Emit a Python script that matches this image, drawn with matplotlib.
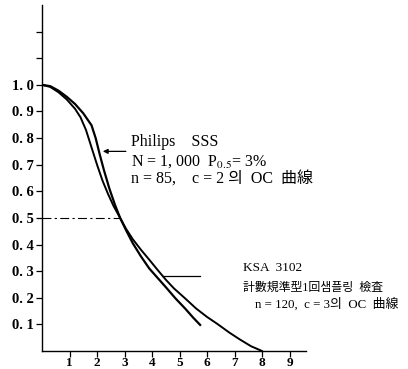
import numpy as np
import matplotlib
matplotlib.use('Agg')
import matplotlib.pyplot as plt

plt.rcParams['mathtext.fontset'] = 'stix'

# OC curves (percent defective vs. P(accept))
philips_x = [0, 0.3, 0.6, 0.9, 1.2, 1.5, 1.8, 1.95, 2.1, 2.25, 2.45, 2.65,
             2.84, 3.05, 3.3, 3.6, 3.9, 4.2, 4.5, 4.85, 5.2, 5.5, 5.75]
philips_y = [1.0, 0.995, 0.978, 0.955, 0.928, 0.893, 0.848, 0.8, 0.738, 0.68,
             0.61, 0.55, 0.5, 0.455, 0.405, 0.355, 0.31, 0.275, 0.24, 0.198,
             0.16, 0.125, 0.098]

ksa_x = [0, 0.3, 0.6, 0.9, 1.2, 1.4, 1.6, 1.8, 2.0, 2.2, 2.4, 2.6, 2.84,
         3.05, 3.3, 3.6, 3.9, 4.2, 4.5, 4.8, 5.2, 5.6, 6.0, 6.4, 6.8, 7.2,
         7.6, 8.0]
ksa_y = [1.0, 0.992, 0.972, 0.945, 0.91, 0.878, 0.83, 0.765, 0.7, 0.64,
         0.59, 0.545, 0.5, 0.46, 0.42, 0.38, 0.343, 0.305, 0.268, 0.235,
         0.198, 0.16, 0.128, 0.1, 0.07, 0.043, 0.018, 0.0]

x_ticks = [1, 2, 3, 4, 5, 6, 7, 8, 9]
y_ticks = [0.1, 0.2, 0.3, 0.4, 0.5, 0.6, 0.7, 0.8, 0.9, 1.0, 1.1, 1.2]
y_labels = ['0. 1', '0. 2', '0. 3', '0. 4', '0. 5', '0. 6', '0. 7', '0. 8',
            '0. 9', '1. 0', '', '']

p50 = 0.5
p50_x = 2.84

txt_font = ['Liberation Serif', 'Noto Sans CJK KR']

fig = plt.figure(figsize=(4.08, 3.69), dpi=100)
ax = fig.add_axes([0.103, 0.0488, 0.647, 0.9377])

ax.plot(philips_x, philips_y, color='black', lw=1.6)
ax.plot(ksa_x, ksa_y, color='black', lw=1.4)
ax.plot([0, p50_x], [p50, p50], color='black', lw=0.8,
        dashes=(8, 3, 2, 3))

ax.set_xlim(0, 9.6)
ax.set_ylim(0, 1.3)
ax.spines['top'].set_visible(False)
ax.spines['right'].set_visible(False)
ax.spines['left'].set_linewidth(1.0)
ax.spines['bottom'].set_linewidth(1.0)

ax.set_xticks(x_ticks)
ax.set_xticklabels([str(t) for t in x_ticks], fontsize=9.5,
                   fontweight='bold', family='Liberation Serif')
ax.set_yticks(y_ticks)
ax.set_yticklabels(y_labels, fontsize=10.5, fontweight='bold',
                   family='Liberation Serif')
ax.tick_params(axis='both', direction='out', length=4, width=0.9, pad=2)
ax.tick_params(axis='x', pad=0)

# Philips label
ax.annotate('', xy=(2.11, 0.75), xytext=(3.15, 0.75),
            arrowprops=dict(arrowstyle='-|>', color='black', lw=0.9,
                            mutation_scale=7))
ax.text(3.24, 0.784, 'Philips    SSS', fontsize=11.5, family=txt_font,
        va='center', ha='left')
ax.text(3.24, 0.713, 'N = 1, 000  P$_{0.5}$= 3%', fontsize=11.5,
        family=txt_font, va='center', ha='left')
ax.text(3.24, 0.642, 'n = 85,    c = 2 의  OC  曲線', fontsize=11.5,
        family=txt_font, va='center', ha='left')

# KSA label
ax.plot([4.4, 5.75], [0.28, 0.28], color='black', lw=0.9)
ax.text(7.3, 0.31, 'KSA  3102', fontsize=9.5, family=txt_font,
        va='center', ha='left', clip_on=False)
ax.text(7.3, 0.239, '計數規準型1回샘플링  檢査', fontsize=8.6,
        family=txt_font, va='center', ha='left', clip_on=False)
ax.text(7.75, 0.175, 'n = 120,  c = 3의  OC  曲線', fontsize=9.3,
        family=txt_font, va='center', ha='left', clip_on=False)

fig.savefig('out.png', dpi=100)
